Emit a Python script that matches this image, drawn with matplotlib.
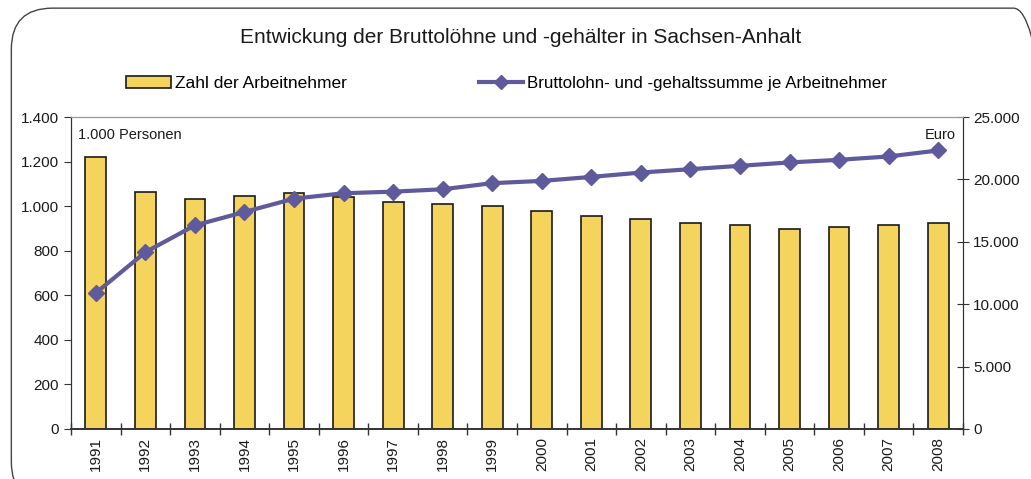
import matplotlib
matplotlib.use("Agg")
import matplotlib.pyplot as plt
import numpy as np
from matplotlib.patches import FancyBboxPatch
from matplotlib.ticker import FuncFormatter, MultipleLocator
from matplotlib.lines import Line2D
from matplotlib.patches import Patch

plt.rcParams['font.family'] = ['Liberation Sans', 'DejaVu Sans']

# Data
years = ['1991', '1992', '1993', '1994', '1995', '1996', '1997', '1998', '1999',
         '2000', '2001', '2002', '2003', '2004', '2005', '2006', '2007', '2008']
arbeitnehmer = [1220, 1064, 1032, 1046, 1061, 1041, 1017, 1011, 1001,
                978, 957, 941, 923, 915, 898, 905, 915, 924]
lohn_je_an = [10900, 14170, 16320, 17390, 18460, 18890, 19020, 19210, 19700,
              19880, 20200, 20550, 20820, 21090, 21360, 21570, 21840, 22320]

bar_color = '#F5D45E'
line_color = '#5E5A9C'
text_color = '#1a1a1a'

def de_fmt(v, pos):
    return f"{int(v):,}".replace(',', '.')

fig = plt.figure(figsize=(10.31, 4.79), dpi=100)
ax = fig.add_axes([0.0689, 0.1044, 0.8651, 0.6513])
ax2 = ax.twinx()

x = np.arange(len(years))
ax.bar(x, arbeitnehmer, width=0.42, color=bar_color, edgecolor='#1a1a1a', linewidth=1.2, zorder=2)
ax2.plot(x, lohn_je_an, color=line_color, linewidth=3, marker='D', markersize=8, zorder=3)

ax.set_xlim(-0.5, len(years) - 0.5)
ax.set_ylim(0, 1400)
ax2.set_ylim(0, 25000)
ax.yaxis.set_major_locator(MultipleLocator(200))
ax2.yaxis.set_major_locator(MultipleLocator(5000))
ax.yaxis.set_major_formatter(FuncFormatter(de_fmt))
ax2.yaxis.set_major_formatter(FuncFormatter(de_fmt))

ax.set_xticks(x)
ax.set_xticklabels(years, rotation=90, fontsize=11, color=text_color)
ax.tick_params(axis='x', length=0, pad=6)
ax.set_xticks(np.arange(len(years) + 1) - 0.5, minor=True)
ax.tick_params(axis='x', which='minor', direction='inout', length=8, width=1, color='#333333')
ax.tick_params(axis='y', labelsize=11, labelcolor=text_color, length=5, color='#333333')
ax2.tick_params(axis='y', labelsize=11, labelcolor=text_color, length=8, direction='inout',
                color='#333333')

for a in (ax, ax2):
    a.spines['top'].set_color('#999999')
    a.spines['top'].set_linewidth(0.8)
    a.spines['left'].set_color('#333333')
    a.spines['right'].set_color('#333333')
    a.spines['bottom'].set_color('#333333')
    a.spines['bottom'].set_linewidth(1.2)

ax2.set_zorder(ax.get_zorder() + 1)
ax.patch.set_visible(False)

ax.text(0.008, 0.965, '1.000 Personen', transform=ax.transAxes, fontsize=10.5,
        color=text_color, ha='left', va='top')
ax2.text(0.992, 0.965, 'Euro', transform=ax.transAxes, fontsize=10.5,
         color=text_color, ha='right', va='top')

fig.text(0.505, 0.921, 'Entwickung der Bruttolöhne und -gehälter in Sachsen-Anhalt',
         ha='center', va='center', fontsize=15, color=text_color)

h1 = Patch(facecolor=bar_color, edgecolor='#1a1a1a', linewidth=1.2)
h2 = Line2D([], [], color=line_color, linewidth=3, marker='D', markersize=7)
fig.legend([h1], ['Zahl der Arbeitnehmer'], loc='center left', bbox_to_anchor=(0.107, 0.826),
           frameon=False, fontsize=12.5, handlelength=2.6, handletextpad=0.2)
fig.legend([h2], ['Bruttolohn- und -gehaltssumme je Arbeitnehmer'], loc='center left',
           bbox_to_anchor=(0.45, 0.826), frameon=False, fontsize=12.2,
           handlelength=2.6, handletextpad=0.2)

border = FancyBboxPatch((0.011, -0.05), 1.012, 1.033, transform=fig.transFigure,
                        boxstyle='round,pad=0,rounding_size=0.04', facecolor='none',
                        edgecolor='#444444', linewidth=1.0, mutation_aspect=2.15)
fig.patches.append(border)

fig.savefig('out.png', dpi=100)
